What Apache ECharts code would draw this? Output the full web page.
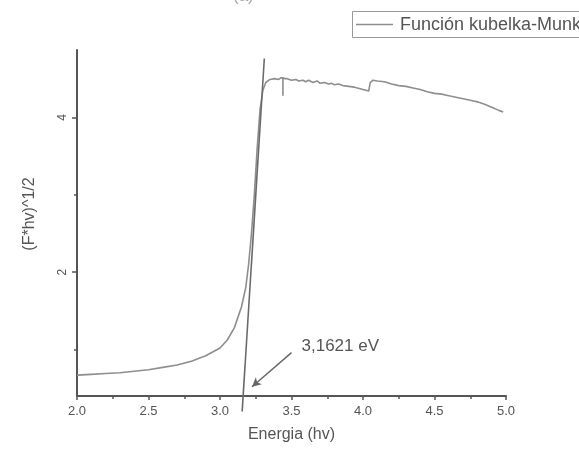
<!DOCTYPE html>
<html>
<head>
<meta charset="utf-8">
<script src="https://cdn.jsdelivr.net/npm/echarts@6/dist/echarts.min.js"></script>
<style>
  html, body { margin: 0; padding: 0; background: #fff; }
  #chart { width: 579px; height: 450px; }
</style>
</head>
<body>
<div id="chart"></div>
<script>
// Photon energy (eV) and transformed Kubelka-Munk function (F*hv)^1/2
const energy = [
  2.00, 2.10, 2.20, 2.30, 2.40, 2.50, 2.60, 2.70, 2.80, 2.90,
  3.00, 3.05, 3.10, 3.15, 3.18, 3.20, 3.22, 3.24, 3.26, 3.28,
  3.30, 3.32, 3.35, 3.38, 3.41, 3.425, 3.44, 3.44, 3.44, 3.455,
  3.47, 3.50, 3.53, 3.55, 3.58, 3.60, 3.62, 3.65, 3.68, 3.70,
  3.73, 3.76, 3.78, 3.80, 3.83, 3.86, 3.90, 3.94, 3.98, 4.02,
  4.04, 4.05, 4.07, 4.10, 4.15, 4.20, 4.25, 4.30, 4.35, 4.40,
  4.45, 4.50, 4.55, 4.60, 4.65, 4.70, 4.75, 4.80, 4.85, 4.90,
  4.95, 4.98
];
const kmValues = [
  0.67, 0.68, 0.69, 0.70, 0.72, 0.74, 0.77, 0.80, 0.85, 0.92,
  1.02, 1.12, 1.28, 1.55, 1.80, 2.10, 2.50, 3.00, 3.60, 4.10,
  4.35, 4.45, 4.49, 4.50, 4.49, 4.51, 4.51, 4.28, 4.51, 4.50,
  4.50, 4.48, 4.49, 4.47, 4.48, 4.46, 4.48, 4.45, 4.47, 4.44,
  4.45, 4.43, 4.44, 4.42, 4.43, 4.41, 4.40, 4.39, 4.37, 4.35,
  4.34, 4.45, 4.48, 4.47, 4.46, 4.43, 4.41, 4.40, 4.38, 4.36,
  4.33, 4.31, 4.30, 4.28, 4.26, 4.24, 4.22, 4.20, 4.17, 4.13,
  4.09, 4.07
];

// Linear fit of the absorption edge, extrapolated to the baseline
const tangentX = [3.155, 3.31];
const tangentY = [0.2, 4.76];

// Band gap estimate and its pointer
const gapLabel = '3,1621 eV';
const arrowFrom = [3.50, 0.96];
const arrowTo = [3.224, 0.52];

// Axis ticks
const xLabels = [2.0, 2.5, 3.0, 3.5, 4.0, 4.5, 5.0];
const yMajor = [2, 4];
const yMinor = [1, 3];

const seriesName = 'Función kubelka-Munk';

const curveData = energy.map((e, i) => [e, kmValues[i]]);
const tangentData = tangentX.map((e, i) => [e, tangentY[i]]);

const axisColor = '#555';
const textColor = '#555';
const font = 'Liberation Sans, Arial, sans-serif';

const chart = echarts.init(document.getElementById('chart'), null, { renderer: 'canvas' });

chart.setOption({
  animation: false,
  backgroundColor: '#fff',
  title: {
    text: '(a)',
    left: 228,
    top: -17,
    textStyle: { color: '#aaa', fontSize: 17, fontWeight: 'normal', fontFamily: font }
  },
  grid: { left: 77, right: 73, top: 50, bottom: 54, containLabel: false },
  xAxis: {
    type: 'value',
    min: 2,
    max: 5,
    interval: 0.5,
    name: 'Energia (hv)',
    nameLocation: 'middle',
    nameGap: 31,
    nameTextStyle: { color: textColor, fontSize: 16, fontFamily: font },
    axisLine: { show: true, onZero: false, lineStyle: { color: axisColor, width: 2 } },
    axisTick: { show: true, length: 4, inside: false, lineStyle: { color: axisColor, width: 1.5 } },
    minorTick: { show: true, splitNumber: 2, length: 3, lineStyle: { color: axisColor, width: 1.5 } },
    axisLabel: {
      color: textColor, fontSize: 13, fontFamily: font, margin: 9,
      customValues: xLabels,
      formatter: v => v.toFixed(1)
    },
    splitLine: { show: false },
    minorSplitLine: { show: false }
  },
  yAxis: [
    {
      type: 'value',
      min: 0.4,
      max: 4.87,
      axisLine: { show: true, onZero: false, lineStyle: { color: axisColor, width: 2 } },
      axisTick: { show: true, length: 5, customValues: yMajor, lineStyle: { color: axisColor, width: 1.5 } },
      axisLabel: {
        color: textColor, fontSize: 12, fontFamily: font, rotate: 90, margin: 8,
        customValues: yMajor
      },
      splitLine: { show: false }
    },
    {
      // short minor ticks at odd values
      type: 'value',
      min: 0.4,
      max: 4.87,
      position: 'left',
      axisLine: { show: false },
      axisTick: { show: true, length: 3, customValues: yMinor, lineStyle: { color: axisColor, width: 1.5 } },
      axisLabel: { show: false },
      splitLine: { show: false }
    }
  ],
  series: [
    {
      name: seriesName,
      type: 'line',
      data: curveData,
      showSymbol: false,
      symbol: 'none',
      lineStyle: { color: '#8e8e8e', width: 1.6 },
      z: 3
    },
    {
      name: 'ajuste',
      type: 'line',
      data: tangentData,
      showSymbol: false,
      symbol: 'none',
      clip: false,
      lineStyle: { color: '#6a6a6a', width: 1.6 },
      z: 4,
      markLine: {
        silent: true,
        symbol: ['none', 'arrow'],
        symbolSize: [7, 9],
        lineStyle: { color: '#666', width: 1.4, type: 'solid' },
        label: { show: false },
        data: [[{ coord: arrowFrom }, { coord: arrowTo }]]
      }
    }
  ]
});

// Band-gap annotation, y-axis title and boxed legend
const tail = chart.convertToPixel({ gridIndex: 0 }, arrowFrom);
chart.setOption({
  graphic: [
    {
      type: 'text',
      x: tail[0] + 10,
      y: tail[1] - 6,
      style: {
        text: gapLabel,
        fill: '#555',
        font: '17px ' + font,
        verticalAlign: 'middle',
        align: 'left'
      }
    },
    {
      type: 'text',
      x: 30,
      y: 214,
      rotation: Math.PI / 2,
      style: {
        text: '(F*hv)^1/2',
        fill: '#555',
        font: '16px ' + font,
        align: 'center',
        verticalAlign: 'middle'
      }
    },
    {
      type: 'group',
      x: 352,
      y: 11,
      children: [
        {
          type: 'rect',
          shape: { x: 0.5, y: 0.5, width: 240, height: 26 },
          style: { fill: '#fff', stroke: '#999', lineWidth: 1 }
        },
        {
          type: 'line',
          shape: { x1: 4, y1: 13.5, x2: 41, y2: 13.5 },
          style: { stroke: '#8e8e8e', lineWidth: 1.4 }
        },
        {
          type: 'text',
          x: 48,
          y: 14,
          style: {
            text: seriesName,
            fill: '#555',
            font: '18px ' + font,
            verticalAlign: 'middle',
            align: 'left'
          }
        }
      ]
    }
  ]
});
</script>
</body>
</html>
